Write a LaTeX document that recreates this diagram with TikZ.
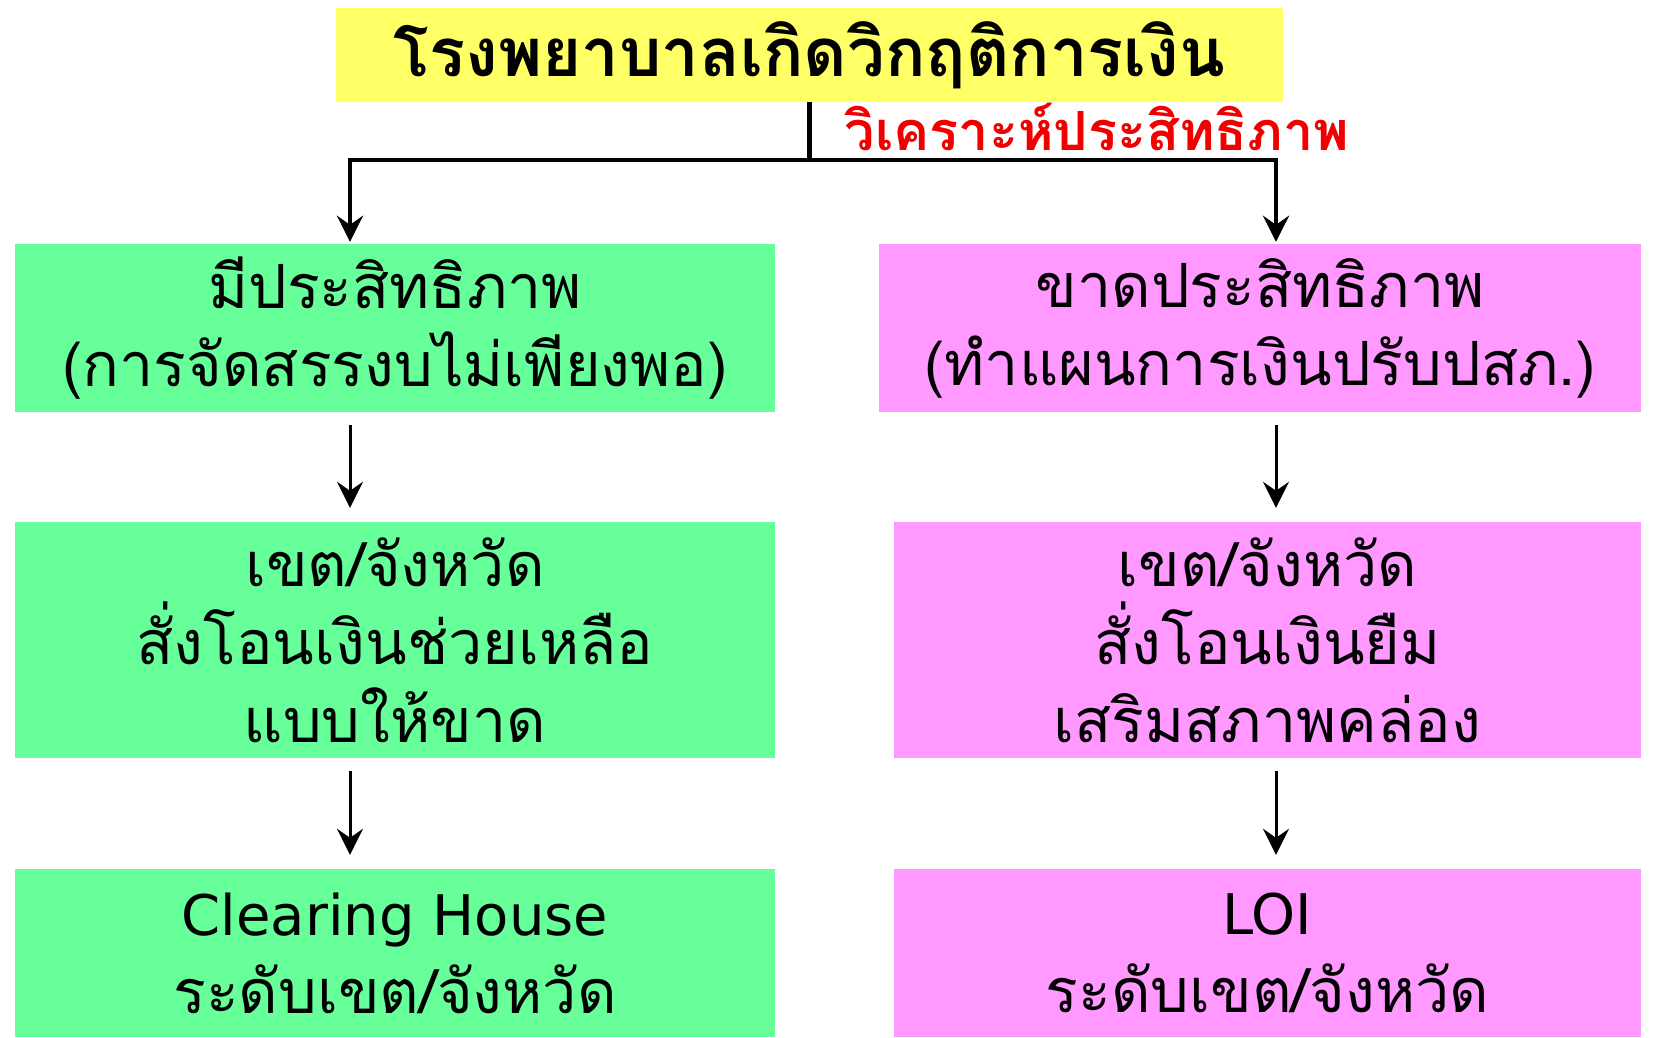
\documentclass[tikz,border=0pt]{standalone}
\usepackage{fontspec}
\usetikzlibrary{arrows.meta}
\newfontfamily\thaifont[Script=Thai]{Loma}
\newfontfamily\latinfont{DejaVu Sans}
\definecolor{boxgreen}{RGB}{102,255,153}
\definecolor{boxpink}{RGB}{255,153,255}
\definecolor{boxyellow}{RGB}{255,255,102}
\definecolor{labred}{RGB}{240,0,0}
\tikzset{
  box/.style={inner sep=0pt, align=center, font=\thaifont\fontsize{61}{78}\selectfont},
  gbox/.style={box, fill=boxgreen, minimum width=760pt},
  pbox/.style={box, fill=boxpink, minimum width=747pt},
  conn/.style={line width=3pt, draw=black},
  arr/.style={conn, -{Stealth[length=26pt,width=26pt,inset=9pt]}, shorten <=13pt, shorten >=14pt}
}
\begin{document}
\begin{tikzpicture}[x=1pt,y=-1pt]
\useasboundingbox (0,0) rectangle (1665,1037);
\fill[white] (0,0) rectangle (1665,1037);
\node[box, fill=boxyellow, minimum width=947pt, minimum height=94pt, font=\thaifont\bfseries\fontsize{67}{70}\selectfont] (top) at (809.5,55) {โรงพยาบาลเกิดวิกฤติการเงิน};
\node[gbox, minimum height=168pt] (g1) at (395,328) {มีประสิทธิภาพ\\(การจัดสรรงบไม่เพียงพอ)};
\node[box, fill=boxpink, minimum width=762pt, minimum height=168pt] (p1) at (1260,328) {ขาดประสิทธิภาพ\\(ทำแผนการเงินปรับปสภ.)};
\node[gbox, minimum height=236pt] (g2) at (395,640) {เขต/จังหวัด\\สั่งโอนเงินช่วยเหลือ\\แบบให้ขาด};
\node[pbox, minimum height=236pt] (p2) at (1267.5,640) {เขต/จังหวัด\\สั่งโอนเงินยืม\\เสริมสภาพคล่อง};
\node[gbox, minimum height=168pt] (g3) at (395,953) {{\latinfont\fontsize{56}{78}\selectfont Clearing House}\\ระดับเขต/จังหวัด};
\node[pbox, minimum height=168pt] (p3) at (1267.5,953) {{\latinfont\fontsize{56}{78}\selectfont LOI}\\ระดับเขต/จังหวัด};
\node[inner sep=0pt, text=labred, font=\thaifont\bfseries\fontsize{54}{60}\selectfont] (lab) at (1097,127) {วิเคราะห์ประสิทธิภาพ};
\coordinate (jn) at (top.south |- 0,160);
\coordinate (jl) at (350,160);
\coordinate (jr) at (1276,160);
\draw[line width=4.5pt] (top.south) -- (jn);
\draw[line width=4.5pt, {Stealth[length=26pt,width=26pt,inset=9pt]}-{Stealth[length=26pt,width=26pt,inset=9pt]}, shorten <=2pt, shorten >=2pt] (g1.north -| jl) -- (jl) -- (jr) -- (p1.north -| jr);
\draw[arr] (g1.south -| jl) -- (g2.north -| jl);
\draw[arr] (p1.south -| jr) -- (p2.north -| jr);
\draw[arr] (g2.south -| jl) -- (g3.north -| jl);
\draw[arr] (p2.south -| jr) -- (p3.north -| jr);
\end{tikzpicture}
\end{document}
